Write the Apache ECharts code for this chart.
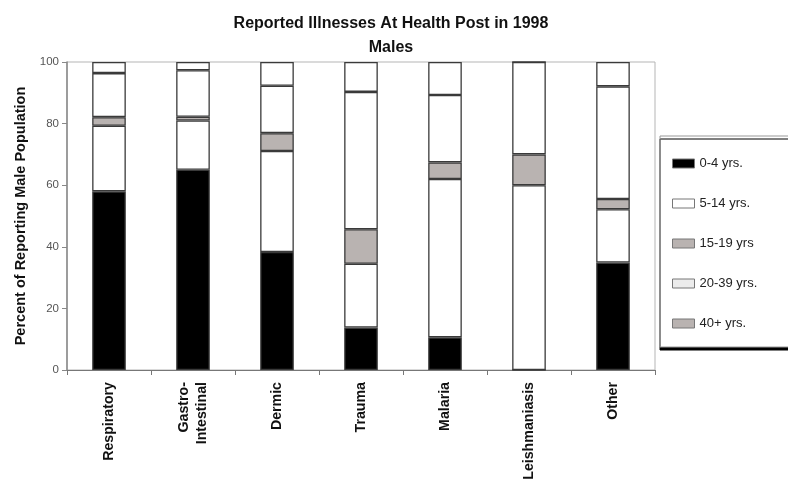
<!DOCTYPE html>
<html>
<head>
<meta charset="utf-8">
<script src="https://cdn.jsdelivr.net/npm/echarts@6/dist/echarts.min.js"></script>
<style>
  html, body { margin: 0; padding: 0; background: #fff; }
  #chart { width: 788px; height: 483px; }
</style>
</head>
<body>
<div id="chart"></div>
<script>
// categories and age groups
const categories = ['Respiratory', 'Gastro-\nIntestinal', 'Dermic', 'Trauma', 'Malaria', 'Leishmaniasis', 'Other']
const ageGroups = ['0-4 yrs.', '5-14 yrs.', '15-19 yrs', '20-39 yrs.', '40+ yrs.']

// percent of reporting male population, per age group
const age0to4 = [58, 65, 38.3, 13.8, 10.6, 0, 34.9]
const age5to14 = [21.3, 16, 32.8, 20.7, 51.4, 60, 17.3]
const age15to19 = [2.8, 1.2, 5.8, 11.2, 5.4, 10, 3.3]
const age20to39 = [14.3, 15.1, 15.4, 44.6, 21.9, 30, 36.6]
const age40plus = [3.6, 2.7, 7.7, 9.7, 10.7, 0, 7.9]

const yTicks = { min: 0, max: 100, interval: 20 }

const seriesData = [age0to4, age5to14, age15to19, age20to39, age40plus]
// colours as they appear in the bars, and as in the legend
const barColors = ['#000000', '#ffffff', '#b9b3b1', '#ffffff', '#ffffff']
const legendColors = ['#000000', '#ffffff', '#b9b3b1', '#ececec', '#b9b3b1']

const chart = echarts.init(document.getElementById('chart'))

const option = {
  animation: false,
  title: {
    text: 'Reported Illnesses At Health Post in 1998\nMales',
    left: 386,
    textAlign: 'center',
    top: 7,
    textStyle: {
      fontFamily: 'Liberation Sans, Arial',
      fontWeight: 'bold',
      fontSize: 16,
      lineHeight: 24,
      color: '#111'
    }
  },
  legend: {
    orient: 'vertical',
    left: 660,
    top: 136,
    padding: [21, 40, 17, 12],
    icon: 'rect',
    itemWidth: 22,
    itemHeight: 9,
    itemGap: 27,
    backgroundColor: '#fff',
    borderColor: '#999',
    borderWidth: 1,
    shadowColor: '#000',
    shadowOffsetX: 0,
    shadowOffsetY: 3,
    shadowBlur: 0,
    textStyle: {
      fontFamily: 'Liberation Sans, Arial',
      fontSize: 13,
      color: '#222'
    },
    data: ageGroups.map((name, i) => ({
      name: name,
      itemStyle: { color: legendColors[i], borderColor: '#777', borderWidth: 1 }
    }))
  },
  grid: {
    left: 67,
    right: 133,
    top: 62,
    bottom: 113,
    show: true,
    borderColor: '#b5b5b5',
    borderWidth: 1
  },
  xAxis: {
    type: 'category',
    data: categories,
    axisLine: { lineStyle: { color: '#777', width: 1 } },
    axisTick: { show: true, length: 5, lineStyle: { color: '#777' } },
    axisLabel: {
      rotate: 90,
      margin: 12,
      fontFamily: 'Liberation Sans, Arial',
      fontWeight: 'bold',
      fontSize: 14.2,
      lineHeight: 18,
      color: '#111'
    }
  },
  yAxis: {
    type: 'value',
    min: yTicks.min,
    max: yTicks.max,
    interval: yTicks.interval,
    name: 'Percent of Reporting Male Population',
    nameLocation: 'middle',
    nameRotate: 90,
    nameGap: 38,
    nameTextStyle: {
      fontFamily: 'Liberation Sans, Arial',
      fontWeight: 'bold',
      fontSize: 14.5,
      color: '#111'
    },
    axisLine: { show: true, lineStyle: { color: '#888', width: 1.5 } },
    axisTick: { show: true, length: 5, lineStyle: { color: '#888' } },
    axisLabel: {
      margin: 8,
      fontFamily: 'Liberation Sans, Arial',
      fontSize: 11.5,
      color: '#555'
    },
    splitLine: { show: false }
  },
  series: seriesData.map((data, i) => ({
    name: ageGroups[i],
    type: 'bar',
    stack: 'total',
    barWidth: '40%',
    data: data,
    itemStyle: {
      color: barColors[i],
      borderColor: '#3a3a3a',
      borderWidth: 1.3
    }
  }))
}

chart.setOption(option)
</script>
</body>
</html>
